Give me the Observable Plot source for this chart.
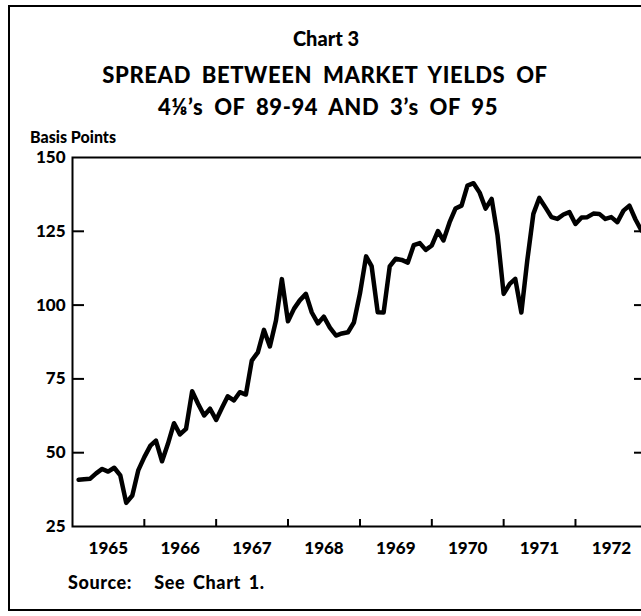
<!DOCTYPE html>
<html>
<head>
<meta charset="utf-8">
<script src="https://cdn.jsdelivr.net/npm/d3@7"></script>
<script src="https://cdn.jsdelivr.net/npm/@observablehq/plot@0.6"></script>
<style>
  html, body { margin: 0; padding: 0; background: #fff; overflow: hidden; }
  #wrap { position: relative; width: 641px; height: 616px; overflow: hidden; font-family: Lato, "DejaVu Sans", sans-serif; font-weight: 900; color: #000; }
  #border { position: absolute; left: 8px; top: 5px; width: 700px; height: 606px; border: 2px solid #000; box-sizing: border-box; }
  .t { position: absolute; white-space: nowrap; line-height: 1; }
  .c { transform: translateX(-50%); }
  #chart { position: absolute; left: 0; top: 140px; width: 660px; }
  #chart svg { max-width: none !important; }
</style>
</head>
<body>
<div id="wrap">
  <div id="border"></div>
  <div class="t c" id="kicker" style="left:326px; top:28px; font-size:20px;">Chart 3</div>
  <div class="t c" id="title1" style="left:325px; top:64px; font-size:22px; word-spacing:5px; letter-spacing:0.6px;">SPREAD BETWEEN MARKET YIELDS OF</div>
  <div class="t c" id="title2" style="left:328px; top:96px; font-size:22px; word-spacing:5px; letter-spacing:0.6px;">4⅛’s OF 89-94 AND 3’s OF 95</div>
  <div class="t" id="unit" style="left:30px; top:129px; font-size:16px;">Basis Points</div>
  <div class="t" id="source" style="left:68px; top:573px; font-size:18px; letter-spacing:0.6px;"><span>Source:</span><span style="margin-left:22px; word-spacing:3px;">See Chart 1.</span></div>
  <div id="chart"></div>
</div>
<script>
// ---- data ----
const startYear = 1965;
// monthly spread, basis points, Jan 1965 .. Dec 1972 (plotted at month end)
const spread = [
  40.8, 41.0, 41.2, 43.0, 44.5, 43.6, 44.9, 42.3, 33.0, 35.5, 44.0, 48.5,
  52.4, 54.1, 47.1, 53.0, 60.0, 56.2, 58.1, 70.8, 66.6, 62.6, 64.9, 61.1,
  65.4, 69.1, 67.7, 70.5, 69.7, 81.2, 84.0, 91.6, 86.0, 94.8, 108.8, 94.5,
  98.8, 101.6, 103.8, 97.5, 93.8, 96.1, 92.4, 89.7, 90.4, 90.8, 94.1, 104.0,
  116.5, 113.2, 97.6, 97.5, 113.1, 115.7, 115.3, 114.4, 120.3, 121.0, 118.7, 120.2,
  125.1, 121.9, 128.0, 132.7, 133.7, 140.5, 141.3, 138.1, 132.7, 136.0, 123.6, 103.8,
  107.2, 108.9, 97.5, 115.1, 130.9, 136.3, 133.1, 129.8, 129.2, 130.7, 131.5, 127.5,
  129.7, 129.8, 131.0, 130.9, 129.2, 129.8, 128.1, 132.0, 133.7, 129.0, 125.3, 128.0
];
const years = [1965, 1966, 1967, 1968, 1969, 1970, 1971, 1972];
const yTickValues = [25, 50, 75, 100, 125, 150];
const leftTickValues = [50, 75, 100, 125];
const rightTickValues = [50, 75, 100, 125];

// ---- layout ----
const W = 660, H = 426;
const mL = 72, mR = 13, mT = 17, mB = 40;
const frameW = W - mL - mR, frameH = H - mT - mB;

const rows = spread.map((v, i) => ({date: new Date(Date.UTC(startYear, i + 1, 1)), value: v}));
const yearStarts = years.slice(1).map(y => new Date(Date.UTC(y, 0, 1)));
const yearMids = years.map(y => new Date(Date.UTC(y, 6, 2)));

const chart = Plot.plot({
  width: W, height: H,
  marginLeft: mL, marginRight: mR, marginTop: mT, marginBottom: mB,
  style: {fontFamily: "Lato, 'DejaVu Sans', sans-serif", fontWeight: "900", color: "#000", background: "transparent", maxWidth: "none"},
  x: {type: "utc", domain: [new Date(Date.UTC(years[0], 0, 1)), new Date(Date.UTC(years[years.length - 1] + 1, 0, 1))]},
  y: {domain: [yTickValues[0], yTickValues[yTickValues.length - 1]]},
  marks: [
    Plot.tickY(leftTickValues, {y: d => d, insetRight: frameW - 12, stroke: "#000", strokeWidth: 2}),
    Plot.tickY(rightTickValues, {y: d => d, insetLeft: frameW - 13, stroke: "#000", strokeWidth: 2}),
    Plot.tickX(yearStarts, {x: d => d, insetTop: frameH - 7, stroke: "#000", strokeWidth: 2}),
    Plot.axisY(yTickValues, {tickSize: 0, tickPadding: 7, fontSize: 17, fontWeight: "900", label: null, tickFormat: d => String(d)}),
    Plot.axisX(yearMids, {tickSize: 0, tickPadding: 15, fontSize: 17, fontWeight: "900", label: null, tickFormat: d => String(d.getUTCFullYear())}),
    Plot.line(rows, {x: "date", y: "value", stroke: "#000", strokeWidth: 4.5, strokeLinejoin: "round", strokeLinecap: "round", clip: true}),
    Plot.frame({stroke: "#000", strokeWidth: 2})
  ]
});
document.getElementById("chart").appendChild(chart);
</script>
</body>
</html>
